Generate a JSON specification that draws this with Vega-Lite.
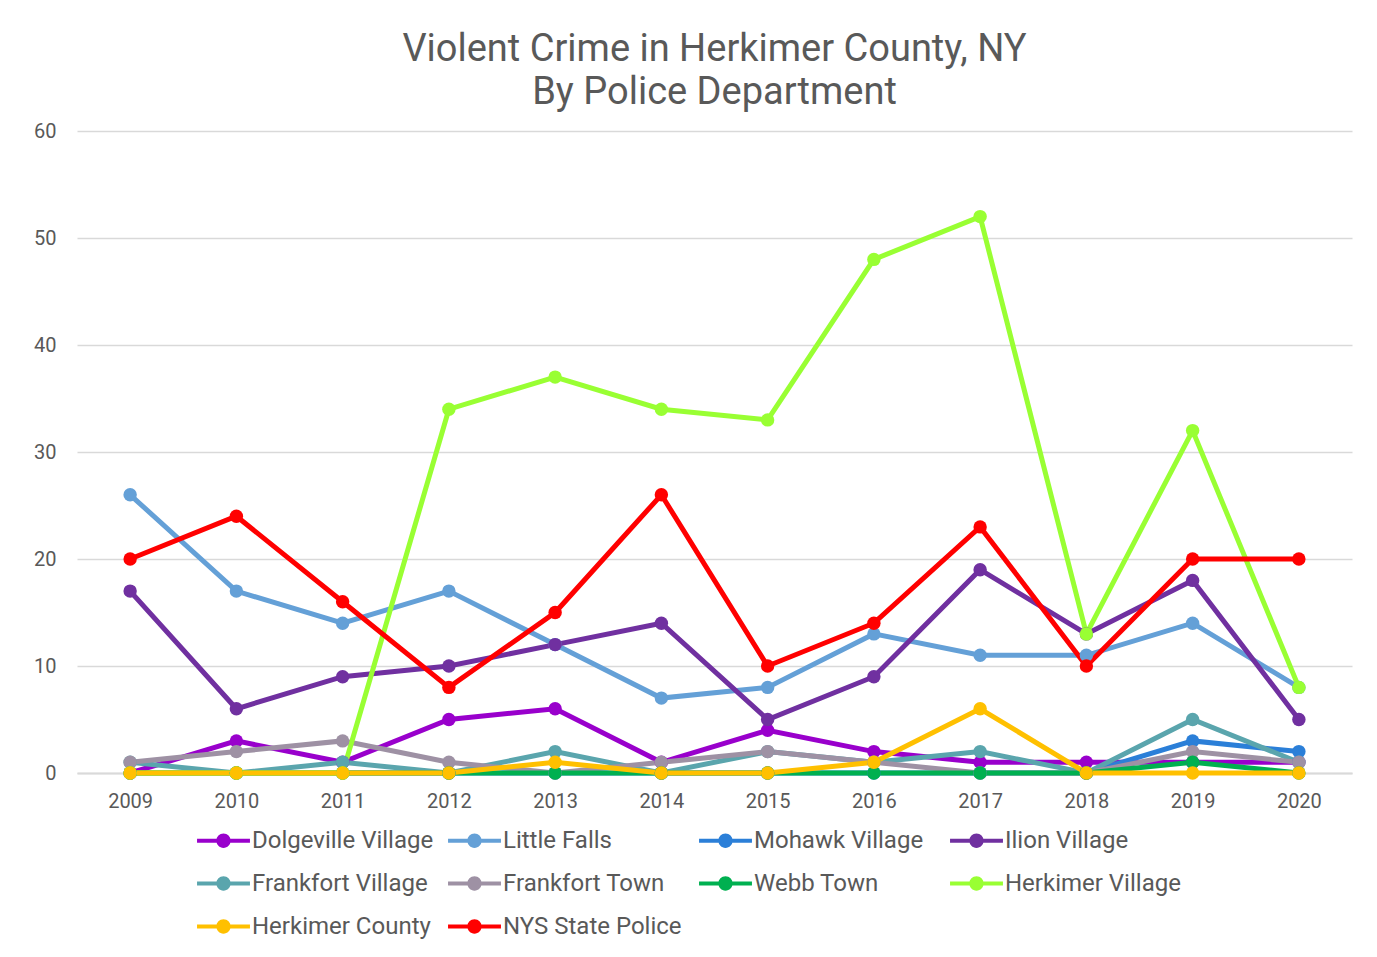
{
  "$schema": "https://vega.github.io/schema/vega-lite/v6.json",
  "autosize": {"type": "none"},
  "width": 1275,
  "height": 642,
  "padding": {"left": 77, "top": 131, "right": 25, "bottom": 184},
  "background": "white",
  "title": {
    "text": ["Violent Crime in Herkimer County, NY", "By Police Department"],
    "font": "Roboto",
    "fontSize": 38,
    "fontWeight": "normal",
    "color": "#595959",
    "lineHeight": 43,
    "offset": 9,
    "anchor": "middle"
  },
  "data": {"values": [
    {"dept": "Dolgeville Village", "year": "2009", "v": 0},
    {"dept": "Dolgeville Village", "year": "2010", "v": 3},
    {"dept": "Dolgeville Village", "year": "2011", "v": 1},
    {"dept": "Dolgeville Village", "year": "2012", "v": 5},
    {"dept": "Dolgeville Village", "year": "2013", "v": 6},
    {"dept": "Dolgeville Village", "year": "2014", "v": 1},
    {"dept": "Dolgeville Village", "year": "2015", "v": 4},
    {"dept": "Dolgeville Village", "year": "2016", "v": 2},
    {"dept": "Dolgeville Village", "year": "2017", "v": 1},
    {"dept": "Dolgeville Village", "year": "2018", "v": 1},
    {"dept": "Dolgeville Village", "year": "2019", "v": 1},
    {"dept": "Dolgeville Village", "year": "2020", "v": 1},
    {"dept": "Little Falls", "year": "2009", "v": 26},
    {"dept": "Little Falls", "year": "2010", "v": 17},
    {"dept": "Little Falls", "year": "2011", "v": 14},
    {"dept": "Little Falls", "year": "2012", "v": 17},
    {"dept": "Little Falls", "year": "2013", "v": 12},
    {"dept": "Little Falls", "year": "2014", "v": 7},
    {"dept": "Little Falls", "year": "2015", "v": 8},
    {"dept": "Little Falls", "year": "2016", "v": 13},
    {"dept": "Little Falls", "year": "2017", "v": 11},
    {"dept": "Little Falls", "year": "2018", "v": 11},
    {"dept": "Little Falls", "year": "2019", "v": 14},
    {"dept": "Little Falls", "year": "2020", "v": 8},
    {"dept": "Mohawk Village", "year": "2009", "v": 0},
    {"dept": "Mohawk Village", "year": "2010", "v": 0},
    {"dept": "Mohawk Village", "year": "2011", "v": 0},
    {"dept": "Mohawk Village", "year": "2012", "v": 0},
    {"dept": "Mohawk Village", "year": "2013", "v": 0},
    {"dept": "Mohawk Village", "year": "2014", "v": 0},
    {"dept": "Mohawk Village", "year": "2015", "v": 0},
    {"dept": "Mohawk Village", "year": "2016", "v": 0},
    {"dept": "Mohawk Village", "year": "2017", "v": 0},
    {"dept": "Mohawk Village", "year": "2018", "v": 0},
    {"dept": "Mohawk Village", "year": "2019", "v": 3},
    {"dept": "Mohawk Village", "year": "2020", "v": 2},
    {"dept": "Ilion Village", "year": "2009", "v": 17},
    {"dept": "Ilion Village", "year": "2010", "v": 6},
    {"dept": "Ilion Village", "year": "2011", "v": 9},
    {"dept": "Ilion Village", "year": "2012", "v": 10},
    {"dept": "Ilion Village", "year": "2013", "v": 12},
    {"dept": "Ilion Village", "year": "2014", "v": 14},
    {"dept": "Ilion Village", "year": "2015", "v": 5},
    {"dept": "Ilion Village", "year": "2016", "v": 9},
    {"dept": "Ilion Village", "year": "2017", "v": 19},
    {"dept": "Ilion Village", "year": "2018", "v": 13},
    {"dept": "Ilion Village", "year": "2019", "v": 18},
    {"dept": "Ilion Village", "year": "2020", "v": 5},
    {"dept": "Frankfort Village", "year": "2009", "v": 1},
    {"dept": "Frankfort Village", "year": "2010", "v": 0},
    {"dept": "Frankfort Village", "year": "2011", "v": 1},
    {"dept": "Frankfort Village", "year": "2012", "v": 0},
    {"dept": "Frankfort Village", "year": "2013", "v": 2},
    {"dept": "Frankfort Village", "year": "2014", "v": 0},
    {"dept": "Frankfort Village", "year": "2015", "v": 2},
    {"dept": "Frankfort Village", "year": "2016", "v": 1},
    {"dept": "Frankfort Village", "year": "2017", "v": 2},
    {"dept": "Frankfort Village", "year": "2018", "v": 0},
    {"dept": "Frankfort Village", "year": "2019", "v": 5},
    {"dept": "Frankfort Village", "year": "2020", "v": 1},
    {"dept": "Frankfort Town", "year": "2009", "v": 1},
    {"dept": "Frankfort Town", "year": "2010", "v": 2},
    {"dept": "Frankfort Town", "year": "2011", "v": 3},
    {"dept": "Frankfort Town", "year": "2012", "v": 1},
    {"dept": "Frankfort Town", "year": "2013", "v": 0},
    {"dept": "Frankfort Town", "year": "2014", "v": 1},
    {"dept": "Frankfort Town", "year": "2015", "v": 2},
    {"dept": "Frankfort Town", "year": "2016", "v": 1},
    {"dept": "Frankfort Town", "year": "2017", "v": 0},
    {"dept": "Frankfort Town", "year": "2018", "v": 0},
    {"dept": "Frankfort Town", "year": "2019", "v": 2},
    {"dept": "Frankfort Town", "year": "2020", "v": 1},
    {"dept": "Webb Town", "year": "2009", "v": 0},
    {"dept": "Webb Town", "year": "2010", "v": 0},
    {"dept": "Webb Town", "year": "2011", "v": 0},
    {"dept": "Webb Town", "year": "2012", "v": 0},
    {"dept": "Webb Town", "year": "2013", "v": 0},
    {"dept": "Webb Town", "year": "2014", "v": 0},
    {"dept": "Webb Town", "year": "2015", "v": 0},
    {"dept": "Webb Town", "year": "2016", "v": 0},
    {"dept": "Webb Town", "year": "2017", "v": 0},
    {"dept": "Webb Town", "year": "2018", "v": 0},
    {"dept": "Webb Town", "year": "2019", "v": 1},
    {"dept": "Webb Town", "year": "2020", "v": 0},
    {"dept": "Herkimer Village", "year": "2009", "v": 0},
    {"dept": "Herkimer Village", "year": "2010", "v": 0},
    {"dept": "Herkimer Village", "year": "2011", "v": 0},
    {"dept": "Herkimer Village", "year": "2012", "v": 34},
    {"dept": "Herkimer Village", "year": "2013", "v": 37},
    {"dept": "Herkimer Village", "year": "2014", "v": 34},
    {"dept": "Herkimer Village", "year": "2015", "v": 33},
    {"dept": "Herkimer Village", "year": "2016", "v": 48},
    {"dept": "Herkimer Village", "year": "2017", "v": 52},
    {"dept": "Herkimer Village", "year": "2018", "v": 13},
    {"dept": "Herkimer Village", "year": "2019", "v": 32},
    {"dept": "Herkimer Village", "year": "2020", "v": 8},
    {"dept": "Herkimer County", "year": "2009", "v": 0},
    {"dept": "Herkimer County", "year": "2010", "v": 0},
    {"dept": "Herkimer County", "year": "2011", "v": 0},
    {"dept": "Herkimer County", "year": "2012", "v": 0},
    {"dept": "Herkimer County", "year": "2013", "v": 1},
    {"dept": "Herkimer County", "year": "2014", "v": 0},
    {"dept": "Herkimer County", "year": "2015", "v": 0},
    {"dept": "Herkimer County", "year": "2016", "v": 1},
    {"dept": "Herkimer County", "year": "2017", "v": 6},
    {"dept": "Herkimer County", "year": "2018", "v": 0},
    {"dept": "Herkimer County", "year": "2019", "v": 0},
    {"dept": "Herkimer County", "year": "2020", "v": 0},
    {"dept": "NYS State Police", "year": "2009", "v": 20},
    {"dept": "NYS State Police", "year": "2010", "v": 24},
    {"dept": "NYS State Police", "year": "2011", "v": 16},
    {"dept": "NYS State Police", "year": "2012", "v": 8},
    {"dept": "NYS State Police", "year": "2013", "v": 15},
    {"dept": "NYS State Police", "year": "2014", "v": 26},
    {"dept": "NYS State Police", "year": "2015", "v": 10},
    {"dept": "NYS State Police", "year": "2016", "v": 14},
    {"dept": "NYS State Police", "year": "2017", "v": 23},
    {"dept": "NYS State Police", "year": "2018", "v": 10},
    {"dept": "NYS State Police", "year": "2019", "v": 20},
    {"dept": "NYS State Police", "year": "2020", "v": 20}
  ]},
  "mark": {"type": "line", "strokeWidth": 5, "point": {"filled": true, "size": 180, "opacity": 1}},
  "encoding": {
    "x": {
      "field": "year", "type": "ordinal",
      "scale": {"type": "point", "padding": 0.5},
      "axis": {
        "title": null, "labelAngle": 0, "labelFont": "Roboto", "labelFontSize": 20,
        "labelColor": "#595959", "ticks": false, "domainColor": "#d9d9d9", "domainWidth": 2,
        "labelPadding": 18, "grid": false
      }
    },
    "y": {
      "field": "v", "type": "quantitative",
      "scale": {"domain": [0, 60], "nice": false},
      "axis": {
        "title": null, "values": [0, 10, 20, 30, 40, 50, 60], "labelFont": "Roboto",
        "labelFontSize": 20, "labelColor": "#595959", "ticks": false, "domain": false,
        "gridColor": "#d9d9d9", "gridWidth": 1.5, "labelPadding": 21
      }
    },
    "color": {
      "field": "dept", "type": "nominal",
      "scale": {
        "domain": ["Dolgeville Village", "Little Falls", "Mohawk Village", "Ilion Village", "Frankfort Village", "Frankfort Town", "Webb Town", "Herkimer Village", "Herkimer County", "NYS State Police"],
        "range": ["#9900cc", "#64a0d7", "#2b7fd8", "#7030a0", "#5aa5ad", "#9e91a4", "#00b050", "#99ff33", "#ffc000", "#ff0000"]
      },
      "legend": {
        "orient": "none", "legendX": 120, "legendY": 683, "direction": "horizontal", "columns": 4,
        "gridAlign": "all", "columnPadding": 14, "rowPadding": 4, "title": null,
        "symbolType": "M -1 -0.08 L 1 -0.08 L 1 0.08 L -1 0.08 Z M 0.27 0 A 0.27 0.27 0 1 1 -0.27 0 A 0.27 0.27 0 1 1 0.27 0 Z",
        "symbolSize": 2800, "symbolStrokeWidth": 0, "labelFont": "Roboto", "labelLimit": 400,
        "labelFontSize": 24, "labelColor": "#595959", "labelOffset": 2,
        "encode": {"symbols": {"update": {"fill": {"scale": "color", "field": "value"}, "stroke": {"value": "transparent"}, "opacity": {"value": 1}}}}
      }
    }
  },
  "config": {"view": {"stroke": null}}
}
